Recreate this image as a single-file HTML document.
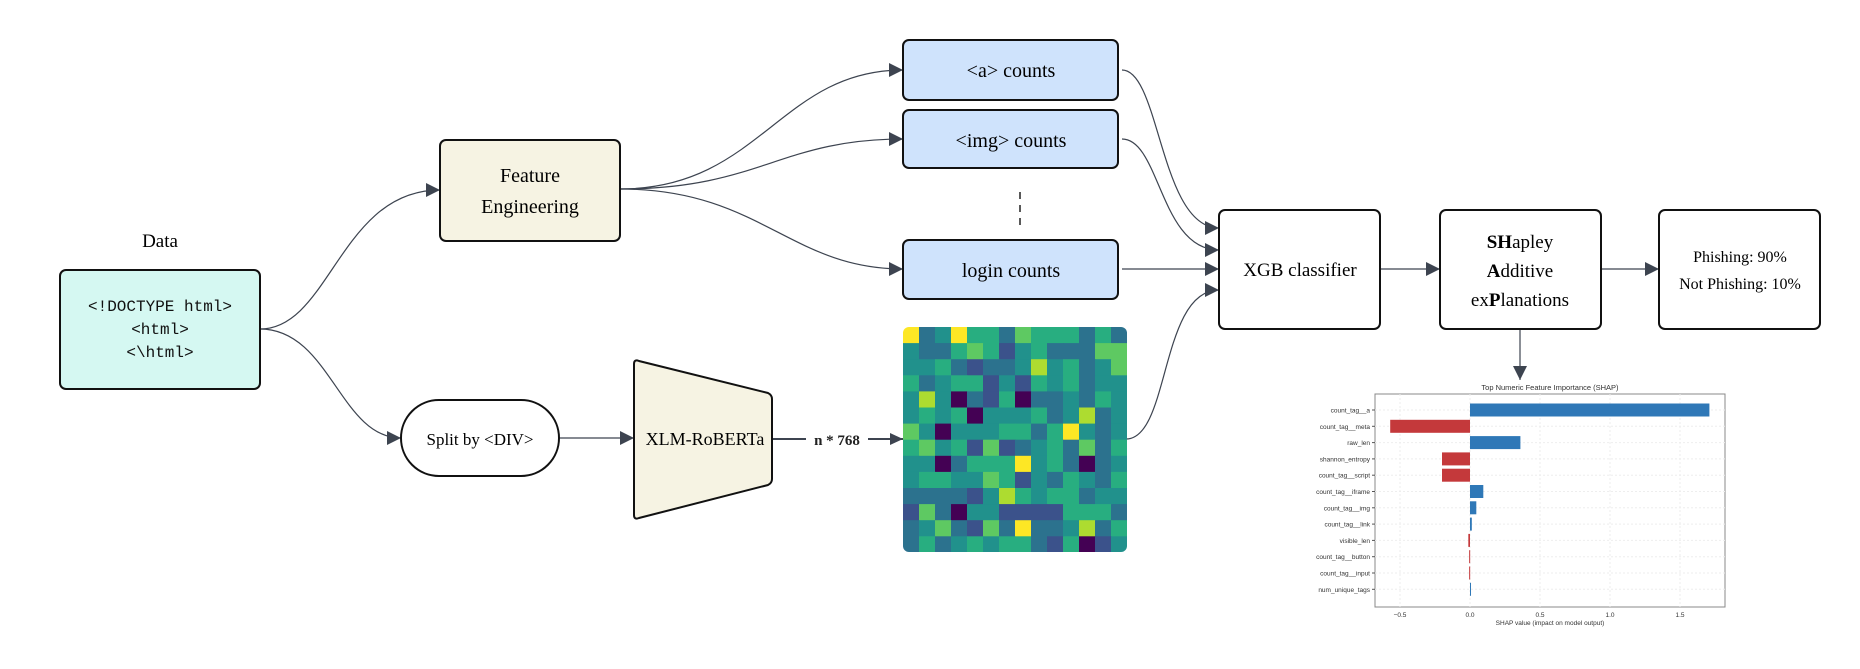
<!DOCTYPE html>
<html><head><meta charset="utf-8"><style>
html,body{margin:0;padding:0;background:#fff;width:1860px;height:669px;overflow:hidden}
svg{display:block}
.s{font-family:"Liberation Serif",serif}
.m{font-family:"Liberation Mono",monospace}
.sm{font-family:"Liberation Sans",sans-serif}
</style></head><body>
<svg id="g" width="1860" height="669" viewBox="0 0 1860 669" xmlns="http://www.w3.org/2000/svg">
<defs><marker id="ar" viewBox="0 0 10 10" refX="10" refY="5" markerWidth="9" markerHeight="9" orient="auto-start-reverse" markerUnits="userSpaceOnUse"><path d="M0,0 L10,5 L0,10 z" fill="#3d4450"/></marker>
<marker id="ar2" viewBox="0 0 10 10" refX="10" refY="5" markerWidth="14" markerHeight="14" orient="auto" markerUnits="userSpaceOnUse"><path d="M0,0 L10,5 L0,10 z" fill="#3d4450"/></marker></defs>
<g fill="none" stroke="#3d4450" stroke-width="1.2" marker-end="url(#ar2)">
<path d="M260,329 C330,329 340,190 440,190"/>
<path d="M260,329 C330,329 340,438 401,438"/>
<path d="M620,189 C760,189 780,70 903,70"/>
<path d="M620,189 C760,189 780,139 903,139"/>
<path d="M620,189 C760,189 790,269 903,269"/>
<path d="M1122,70 C1160,70 1160,228 1219,228"/>
<path d="M1122,139 C1160,139 1160,250 1219,250"/>
<path d="M1122,269 L1219,269"/>
<path d="M1126,439 C1170,439 1160,290 1219,290"/>
<path d="M559,438 L634,438"/>
<path d="M1380,269 L1440,269"/>
<path d="M1601,269 L1659,269"/>
<path d="M1520,329 L1520,380"/>
</g>
<path d="M772,439 L806,439 M868,439 L903,439" stroke="#3d4450" stroke-width="2" fill="none"/>
<path d="M890,433 L903,439 L890,445z" fill="#3d4450"/>
<text x="837" y="445" class="s" font-size="15" font-weight="bold" text-anchor="middle" fill="#222">n * 768</text>
<text x="160" y="247" class="s" font-size="19" text-anchor="middle">Data</text>
<rect x="60" y="270" width="200" height="119" rx="6" fill="#d5f8f2" stroke="#111" stroke-width="2"/>
<text class="m" font-size="16" text-anchor="middle" fill="#111"><tspan x="160" y="311">&lt;!DOCTYPE html&gt;</tspan><tspan x="160" y="334">&lt;html&gt;</tspan><tspan x="160" y="357">&lt;\html&gt;</tspan></text>
<rect x="440" y="140" width="180" height="101" rx="6" fill="#f6f3e3" stroke="#111" stroke-width="2"/>
<text class="s" font-size="20" text-anchor="middle"><tspan x="530" y="182">Feature</tspan><tspan x="530" y="213">Engineering</tspan></text>
<g fill="#cfe3fc" stroke="#111" stroke-width="2">
<rect x="903" y="40" width="215" height="60" rx="6"/>
<rect x="903" y="110" width="215" height="58" rx="6"/>
<rect x="903" y="240" width="215" height="59" rx="6"/>
</g>
<text class="s" font-size="20" text-anchor="middle"><tspan x="1011" y="77">&lt;a&gt; counts</tspan><tspan x="1011" y="147">&lt;img&gt; counts</tspan><tspan x="1011" y="277">login counts</tspan></text>
<path d="M1020,192 L1020,226" stroke="#222" stroke-width="1.5" stroke-dasharray="7,6"/>
<rect x="401" y="400" width="158" height="76" rx="38" fill="#fff" stroke="#111" stroke-width="2"/>
<text x="480" y="445" class="s" font-size="17" text-anchor="middle">Split by &lt;DIV&gt;</text>
<path d="M634,364 Q634,359 639,361 L768,393 Q772,395 772,399 L772,479 Q772,483 768,485 L639,518 Q634,520 634,515 Z" fill="#f6f3e3" stroke="#111" stroke-width="2"/>
<text x="705" y="445" class="s" font-size="18" text-anchor="middle">XLM-RoBERTa</text>
<g id="hm"></g>
<g fill="#fff" stroke="#111" stroke-width="2">
<rect x="1219" y="210" width="161" height="119" rx="6"/>
<rect x="1440" y="210" width="161" height="119" rx="6"/>
<rect x="1659" y="210" width="161" height="119" rx="6"/>
</g>
<text x="1300" y="276" class="s" font-size="19" text-anchor="middle">XGB classifier</text>
<text class="s" font-size="19" text-anchor="middle"><tspan x="1520" y="248"><tspan font-weight="bold">SH</tspan>apley</tspan><tspan x="1520" y="277"><tspan font-weight="bold">A</tspan>dditive</tspan><tspan x="1520" y="306">ex<tspan font-weight="bold">P</tspan>lanations</tspan></text>
<text class="s" font-size="16" text-anchor="middle"><tspan x="1740" y="262">Phishing: 90%</tspan><tspan x="1740" y="289">Not Phishing: 10%</tspan></text>
<text x="1550" y="390" class="sm" font-size="7.5" text-anchor="middle" fill="#333">Top Numeric Feature Importance (SHAP)</text>
<rect x="1375" y="394" width="350" height="213" fill="#fff" stroke="#888" stroke-width="1"/>
<g id="ch"></g>
<text x="1550" y="625" class="sm" font-size="6.5" text-anchor="middle" fill="#333">SHAP value (impact on model output)</text>
</svg>
<script>
var NS="http://www.w3.org/2000/svg";
function el(p,t,a,tx){var e=document.createElementNS(NS,t);for(var k in a)e.setAttribute(k,a[k]);if(tx)e.textContent=tx;p.appendChild(e);return e;}
var pal=["#440154","#3b528b","#2c728e","#21918c","#28ae80","#5ec962","#addc30","#fde725"];
var hm=document.getElementById("hm");
var cp=el(document.getElementById("g").querySelector("defs"),"clipPath",{id:"hc"});el(cp,"rect",{x:903,y:327,width:224,height:225,rx:6});
hm.setAttribute("clip-path","url(#hc)");
var s=12345;function r(){s=(s*1103515245+12345)%2147483648;return s/2147483648;}
var w=[0.06,0.1,0.22,0.28,0.2,0.08,0.04,0.02];
for(var i=0;i<14;i++)for(var j=0;j<14;j++){var x=r(),c=0,a=0;for(var k=0;k<8;k++){a+=w[k];if(x<a){c=k;break;}c=k;}
if(i==0&&j==0)c=7;
el(hm,"rect",{x:903+j*16,y:327+i*16.1,width:16.5,height:16.6,fill:pal[c]});}
var ch=document.getElementById("ch");
var z=1470,u=140;
[-0.5,0,0.5,1,1.5].forEach(function(v){var x=z+v*u;el(ch,"line",{x1:x,y1:394,x2:x,y2:607,stroke:"#eee","stroke-dasharray":"2,2"});el(ch,"text",{x:x,y:617,"font-size":6.5,"text-anchor":"middle",fill:"#333","font-family":"Liberation Sans"},v==-0.5?"\u22120.5":v.toFixed(1));});
var d=[["count_tag__a",1.71],["count_tag__meta",-0.57],["raw_len",0.36],["shannon_entropy",-0.2],["count_tag__script",-0.2],["count_tag__iframe",0.095],["count_tag__img",0.045],["count_tag__link",0.013],["visible_len",-0.012],["count_tag__button",-0.006],["count_tag__input",-0.006],["num_unique_tags",0.004]];
d.forEach(function(e,i){var y=410+i*16.3;
el(ch,"line",{x1:1375,y1:y,x2:1725,y2:y,stroke:"#eee","stroke-dasharray":"2,2"});
var v=e[1],x=v<0?z+v*u:z,wd=Math.max(Math.abs(v)*u,1);
el(ch,"rect",{x:x,y:y-6.5,width:wd,height:13,fill:v<0?"#c4393b":"#2f78b7"});
el(ch,"line",{x1:1372,y1:y,x2:1375,y2:y,stroke:"#555"});
el(ch,"text",{x:1370,y:y+2.5,"font-size":6.5,"text-anchor":"end",fill:"#333","font-family":"Liberation Sans"},e[0]);});
</script>
</body></html>
